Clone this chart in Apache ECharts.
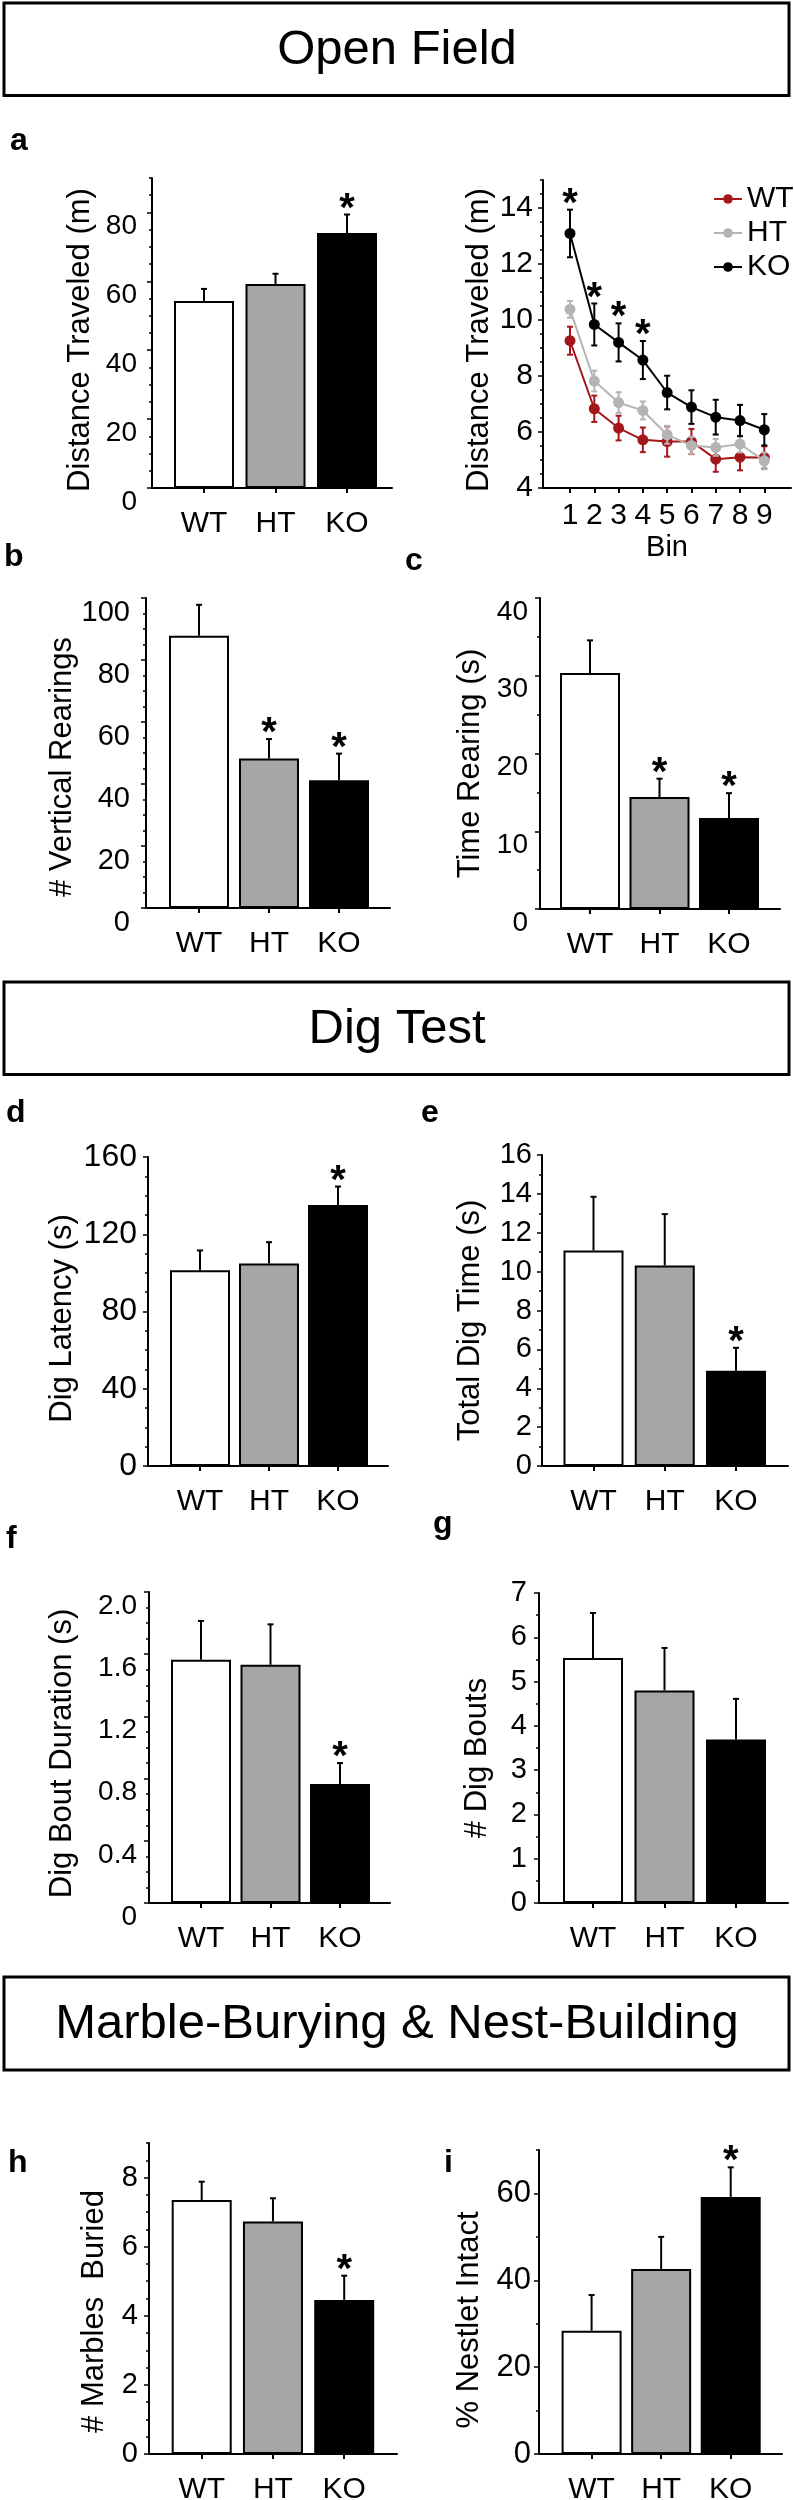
<!DOCTYPE html>
<html>
<head>
<meta charset="utf-8">
<script src="https://cdn.jsdelivr.net/npm/echarts@6.0.0/dist/echarts.min.js"></script>
<style>
html,body{margin:0;padding:0;background:#fff;}
#chart{width:794px;height:2500px;}
</style>
</head>
<body>
<div id="chart"></div>
<script>
// ================= DATA =================
const groups = ['WT', 'HT', 'KO'];

// a (left): distance traveled
const distTicks = [0, 20, 40, 60, 80];
const distMean = [54.3, 59.2, 74.0];
const distErr = [3.5, 3.0, 5.4];
const distSig = ['', '', '*'];

// a (right): distance traveled per bin
const bins = [1, 2, 3, 4, 5, 6, 7, 8, 9];
const binTicks = [4, 6, 8, 10, 12, 14];
const binWT = [9.26, 6.83, 6.14, 5.72, 5.66, 5.66, 5.03, 5.10, 5.09];
const binWTErr = [0.50, 0.47, 0.44, 0.44, 0.54, 0.45, 0.45, 0.47, 0.40];
const binHT = [10.38, 7.82, 7.05, 6.77, 5.90, 5.52, 5.45, 5.57, 4.97];
const binHTErr = [0.30, 0.37, 0.37, 0.32, 0.32, 0.30, 0.30, 0.30, 0.30];
const binKO = [13.09, 9.84, 9.20, 8.57, 7.41, 6.89, 6.53, 6.41, 6.08];
const binKOErr = [0.85, 0.75, 0.68, 0.68, 0.60, 0.60, 0.62, 0.56, 0.56];
const binSig = ['*', '*', '*', '*', '', '', '', '', ''];

// b: vertical rearings
const rearTicks = [0, 20, 40, 60, 80, 100];
const rearMean = [87.8, 48.2, 41.2];
const rearErr = [10.0, 6.3, 8.6];
const rearSig = ['', '*', '*'];

// c: time rearing
const rearTimeTicks = [0, 10, 20, 30, 40];
const rearTimeMean = [30.35, 14.4, 11.7];
const rearTimeErr = [4.2, 2.36, 3.2];
const rearTimeSig = ['', '*', '*'];

// d: dig latency
const latTicks = [0, 40, 80, 120, 160];
const latMean = [101.4, 104.8, 135.2];
const latErr = [10.2, 11.1, 9.5];
const latSig = ['', '', '*'];

// e: total dig time
const digTimeTicks = [0, 2, 4, 6, 8, 10, 12, 14, 16];
const digTimeMean = [11.09, 10.32, 4.9];
const digTimeErr = [2.76, 2.64, 1.18];
const digTimeSig = ['', '', '*'];

// f: dig bout duration
const boutDurTicks = [0, 0.4, 0.8, 1.2, 1.6, 2.0];
const boutDurMean = [1.564, 1.532, 0.765];
const boutDurErr = [0.25, 0.26, 0.135];
const boutDurSig = ['', '', '*'];

// g: number of dig bouts
const boutTicks = [0, 1, 2, 3, 4, 5, 6, 7];
const boutMean = [5.53, 4.8, 3.69];
const boutErr = [1.02, 0.96, 0.92];
const boutSig = ['', '', ''];

// h: marbles buried
const marbleTicks = [0, 2, 4, 6, 8];
const marbleMean = [7.35, 6.73, 4.46];
const marbleErr = [0.53, 0.67, 0.70];
const marbleSig = ['', '', '*'];

// i: % nestlet intact
const nestTicks = [0, 20, 40, 60];
const nestMean = [28.4, 42.6, 59.2];
const nestErr = [8.2, 7.4, 6.8];
const nestSig = ['', '', '*'];

// ================= STYLE / LAYOUT =================
const FONT = '"Liberation Sans", Arial, Helvetica, sans-serif';
const barFills = ['#ffffff', '#a6a6a6', '#000000'];
const lineColors = {WT: '#a3161a', HT: '#b4b4b4', KO: '#000000'};

const panels = [
  {ticks: distTicks, mean: distMean, err: distErr, sig: distSig, name: 'Distance Traveled (m)', max: 90, minor: 5,
   box: [152, 178, 392, 488], centers: [204, 276, 347], gap: 55.7, shift: 7, lf: 28, lm: 15, va: 'top'},
  {ticks: rearTicks, mean: rearMean, err: rearErr, sig: rearSig, name: '# Vertical Rearings', max: 100, minor: 5,
   box: [146, 598, 390, 908], centers: [199, 269, 339], gap: 67.7, shift: 14, lf: 29, lm: 16, va: 'top'},
  {ticks: rearTimeTicks, mean: rearTimeMean, err: rearTimeErr, sig: rearTimeSig, name: 'Time Rearing (s)', max: 40, minor: 5,
   box: [540, 598, 780, 909], centers: [590, 660.5, 729], gap: 53.7, shift: 10, lf: 28, lm: 12, va: 'top'},
  {ticks: latTicks, mean: latMean, err: latErr, sig: latSig, name: 'Dig Latency (s)', max: 160, minor: 10,
   box: [148, 1157, 388, 1466], centers: [200, 269, 338], gap: 69.7, shift: 7, lf: 32, lm: 11, va: 'middle'},
  {ticks: digTimeTicks, mean: digTimeMean, err: digTimeErr, sig: digTimeSig, name: 'Total Dig Time (s)', max: 16, minor: 1,
   box: [542, 1155, 788, 1466], centers: [593.5, 665.5, 736], gap: 55.7, shift: 10, lf: 29, lm: 10, va: 'middle'},
  {ticks: boutDurTicks, mean: boutDurMean, err: boutDurErr, sig: boutDurSig, name: 'Dig Bout Duration (s)', max: 2, minor: 0.1,
   box: [149, 1592, 390, 1903], centers: [201, 271, 340], gap: 70.7, shift: 6, lf: 28, lm: 12, va: 'top',
   fmt: v => (v === 0 ? '0' : v.toFixed(1))},
  {ticks: boutTicks, mean: boutMean, err: boutErr, sig: boutSig, name: '# Dig Bouts', max: 7, minor: 0.5,
   box: [539, 1593, 788, 1903], centers: [593, 665, 736], gap: 45.7, shift: 10, lf: 29, lm: 12, va: 'middle'},
  {ticks: marbleTicks, mean: marbleMean, err: marbleErr, sig: marbleSig, name: '# Marbles  Buried', max: 9, minor: 0.5,
   box: [149, 2143, 397, 2454], centers: [201.7, 273.5, 344.2], gap: 39.2, shift: 13, lf: 29, lm: 11, va: 'middle'},
  {ticks: nestTicks, mean: nestMean, err: nestErr, sig: nestSig, name: '% Nestlet Intact', max: 70, minor: 10,
   box: [539, 2150, 782, 2454], centers: [591.6, 661.8, 730.7], gap: 54.5, shift: 18, lf: 31, lm: 8, va: 'middle'}
];

const grid = [], xAxis = [], yAxis = [], series = [];

function addAxes(P, X) {
  const l = P.box[0], t = P.box[1], r = P.box[2], b = P.box[3];
  grid.push({left: l, top: t, width: r - l, height: b - t, containLabel: false, outerBoundsMode: 'none'});
  const gi = grid.length - 1;
  const xa = {
    type: 'value', gridIndex: gi, position: 'bottom', min: X.min, max: X.max,
    splitLine: {show: false},
    axisLine: {show: true, onZero: false, lineStyle: {color: '#000', width: 2}},
    axisTick: {show: true, inside: false, length: 5, customValues: X.ticks, lineStyle: {color: '#000', width: 2}},
    axisLabel: {show: true, customValues: X.ticks, formatter: X.fmt, margin: X.margin, fontSize: X.fs,
                color: '#000', fontFamily: FONT}
  };
  if (X.extra) Object.assign(xa, X.extra);
  xAxis.push(xa);
  const xi = xAxis.length - 1;
  yAxis.push({
    type: 'value', gridIndex: gi, position: 'left', offset: 0, min: P.min || 0, max: P.max,
    splitLine: {show: false},
    axisLine: {show: true, onZero: false, lineStyle: {color: '#000', width: 2}},
    axisTick: {show: true, inside: false, length: 5, customValues: P.ticks, lineStyle: {color: '#000', width: 1.5}},
    axisLabel: {show: true, customValues: P.ticks, formatter: P.fmt || (v => String(v)), margin: P.lm,
                fontSize: P.lf, verticalAlign: P.va, color: '#000', fontFamily: FONT},
    name: P.name, nameLocation: 'middle', nameGap: P.gap, nameMoveOverlap: false,
    nameTextStyle: {fontSize: 31, color: '#000', fontFamily: FONT, padding: [0, 2 * P.shift, 0, 0]}
  });
  const yi = yAxis.length - 1;
  yAxis.push({
    type: 'value', gridIndex: gi, position: 'left', offset: 0, min: P.min || 0, max: P.max, interval: P.minor,
    splitLine: {show: false},
    axisLine: {show: false, onZero: false},
    axisLabel: {show: false},
    axisTick: {show: true, inside: false, length: 3, lineStyle: {color: '#000', width: 1.5}}
  });
  return {xi: xi, yi: yi};
}

function errRender(sig, color, both) {
  return function (params, api) {
    const x = api.value(0), m = api.value(1), e = api.value(2);
    const top = api.coord([x, m + e]);
    const bot = api.coord([x, both ? m - e : m]);
    const cap = 3;
    const st = {stroke: color, lineWidth: 2};
    const children = [
      {type: 'line', shape: {x1: top[0], y1: top[1], x2: bot[0], y2: bot[1]}, style: st},
      {type: 'line', shape: {x1: top[0] - cap, y1: top[1], x2: top[0] + cap, y2: top[1]}, style: st}
    ];
    if (both) children.push({type: 'line', shape: {x1: bot[0] - cap, y1: bot[1], x2: bot[0] + cap, y2: bot[1]}, style: st});
    const s = sig ? sig[params.dataIndex] : '';
    if (s) {
      children.push({type: 'text', style: {text: s, x: top[0], y: top[1] - 5, align: 'center', verticalAlign: 'middle',
        textAlign: 'center', textVerticalAlign: 'middle', font: 'bold 40px ' + FONT, fill: '#000'}});
    }
    return {type: 'group', children: children};
  };
}

// bar panels
panels.forEach(function (P) {
  const s = (P.centers[2] - P.centers[0]) / 2;
  const ax = addAxes(P, {
    ticks: [0, 1, 2], fmt: v => groups[Math.round(v)], margin: 21, fs: 30,
    min: (P.box[0] - P.centers[0]) / s, max: (P.box[2] - P.centers[0]) / s
  });
  series.push({
    type: 'bar', xAxisIndex: ax.xi, yAxisIndex: ax.yi, barWidth: 60, silent: true,
    data: P.mean.map((v, i) => ({value: [i, v], itemStyle: {color: barFills[i]}})),
    itemStyle: {borderColor: '#000', borderWidth: 2}
  });
  series.push({
    type: 'custom', xAxisIndex: ax.xi, yAxisIndex: ax.yi, silent: true, clip: false, z: 5,
    data: P.mean.map((v, i) => [i, v, P.err[i]]), renderItem: errRender(P.sig, '#000', false)
  });
});

// line panel (distance per bin)
const LP = {ticks: binTicks, min: 4, max: 15, minor: 0.5, name: 'Distance Traveled (m)',
            box: [543, 180, 791, 488], gap: 47.7, shift: 6, lf: 30, lm: 10, va: 'middle'};
const bin1X = 570, bin9X = 764.3, binPx = (bin9X - bin1X) / 8;
const lax = addAxes(LP, {
  ticks: bins, fmt: v => String(v), margin: 13, fs: 30,
  min: 1 + (LP.box[0] - bin1X) / binPx, max: 1 + (LP.box[2] - bin1X) / binPx,
  extra: {name: 'Bin', nameLocation: 'middle', nameGap: 45, nameTextStyle: {fontSize: 29, color: '#000', fontFamily: FONT}}
});
const lineSets = [
  {name: 'WT', mean: binWT, err: binWTErr, sig: null},
  {name: 'HT', mean: binHT, err: binHTErr, sig: null},
  {name: 'KO', mean: binKO, err: binKOErr, sig: binSig}
];
lineSets.forEach(function (L, k) {
  const c = lineColors[L.name];
  series.push({
    type: 'custom', name: 'err-' + L.name, xAxisIndex: lax.xi, yAxisIndex: lax.yi, silent: true, clip: false, z: 3 + k * 2,
    data: bins.map((b, i) => [b, L.mean[i], L.err[i]]), renderItem: errRender(L.sig, c, true)
  });
  series.push({
    type: 'line', name: L.name, xAxisIndex: lax.xi, yAxisIndex: lax.yi, silent: true, z: 4 + k * 2,
    data: bins.map((b, i) => [b, L.mean[i]]),
    symbol: 'circle', symbolSize: 11, showSymbol: true,
    lineStyle: {color: c, width: 2}, itemStyle: {color: c, borderWidth: 0}
  });
});

// headers & panel letters
function header(y, h, text) {
  return [
    {type: 'rect', shape: {x: 4, y: y, width: 785, height: h}, style: {fill: '#fff', stroke: '#000', lineWidth: 3}, z: 0},
    {type: 'text', x: 397, y: y + h / 2 + 1, style: {text: text, font: '49px ' + FONT, fill: '#000',
      align: 'center', verticalAlign: 'middle', textAlign: 'center', textVerticalAlign: 'middle'}, z: 1}
  ];
}
function letter(ch, x, baseline) {
  return {type: 'text', x: x, y: baseline - 27, style: {text: ch, font: 'bold 32px ' + FONT, fill: '#000',
    align: 'left', verticalAlign: 'top', textAlign: 'left', textVerticalAlign: 'top'}};
}
const graphics = [].concat(
  header(3, 92.5, 'Open Field'),
  header(982, 92.5, 'Dig Test'),
  header(1977, 93, 'Marble-Burying & Nest-Building'),
  [letter('a', 10, 152), letter('b', 4, 568), letter('c', 405, 572),
   letter('d', 6, 1124), letter('e', 421, 1124),
   letter('f', 6, 1550), letter('g', 433, 1535),
   letter('h', 8, 2174), letter('i', 444, 2174)]
);

const chart = echarts.init(document.getElementById('chart'), null, {renderer: 'canvas', width: 794, height: 2500});
chart.setOption({
  animation: false,
  backgroundColor: '#fff',
  textStyle: {fontFamily: FONT, color: '#000'},
  grid: grid,
  xAxis: xAxis,
  yAxis: yAxis,
  legend: {
    data: ['WT', 'HT', 'KO'], orient: 'vertical', left: 708, top: 179,
    itemWidth: 28, itemHeight: 12, itemGap: 4, selectedMode: false,
    textStyle: {fontSize: 30, color: '#000', fontFamily: FONT}
  },
  graphic: graphics,
  series: series
});
</script>
</body>
</html>
